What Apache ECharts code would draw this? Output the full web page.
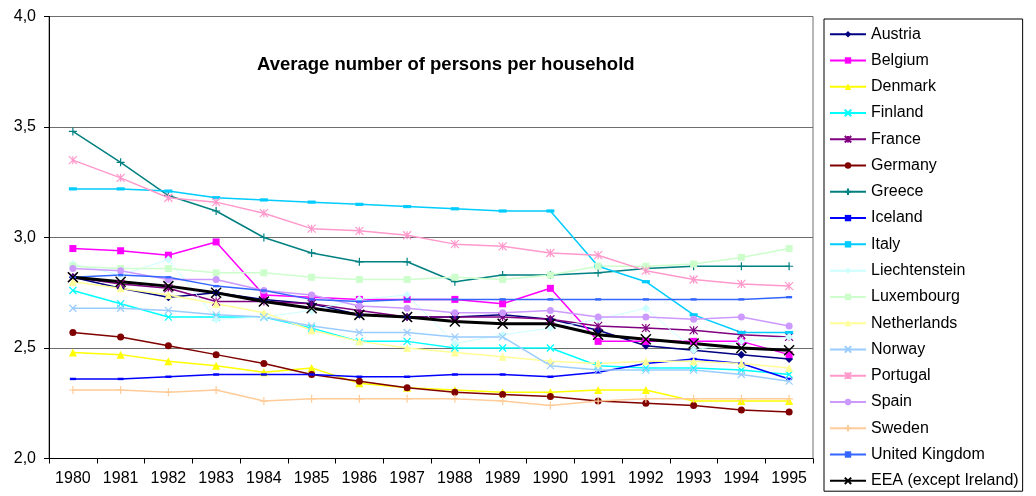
<!DOCTYPE html>
<html>
<head>
<meta charset="utf-8">
<script src="https://cdn.jsdelivr.net/npm/echarts@6/dist/echarts.min.js"></script>
<style>
  html, body { margin: 0; padding: 0; background: #fff; }
  #chart { width: 1036px; height: 496px; }
</style>
</head>
<body>
<div id="chart"></div>
<script>
// Average household size, 1980-1995
const years = ['1980','1981','1982','1983','1984','1985','1986','1987','1988','1989','1990','1991','1992','1993','1994','1995'];

const austria       = [2.82, 2.77, 2.73, 2.75, 2.72, 2.70, 2.65, 2.64, 2.64, 2.65, 2.63, 2.58, 2.51, 2.49, 2.47, 2.45];
const belgium       = [2.95, 2.94, 2.92, 2.98, 2.74, 2.73, 2.72, 2.72, 2.72, 2.70, 2.77, 2.53, 2.53, 2.53, 2.53, 2.47];
const denmark       = [2.48, 2.47, 2.44, 2.42, 2.39, 2.41, 2.34, 2.32, 2.31, 2.30, 2.30, 2.31, 2.31, 2.26, 2.26, 2.26];
const finland       = [2.76, 2.70, 2.64, 2.64, 2.64, 2.59, 2.53, 2.53, 2.50, 2.50, 2.50, 2.42, 2.41, 2.41, 2.40, 2.38];
const france        = [2.82, 2.79, 2.77, 2.71, 2.71, 2.70, 2.67, 2.64, 2.64, 2.64, 2.63, 2.60, 2.59, 2.58, 2.56, 2.55];
const germany       = [2.57, 2.55, 2.51, 2.47, 2.43, 2.38, 2.35, 2.32, 2.30, 2.29, 2.28, 2.26, 2.25, 2.24, 2.22, 2.21];
const greece        = [3.48, 3.34, 3.19, 3.12, 3.00, 2.93, 2.89, 2.89, 2.80, 2.83, 2.83, 2.84, 2.86, 2.87, 2.87, 2.87];
const iceland       = [2.36, 2.36, 2.37, 2.38, 2.38, 2.38, 2.37, 2.37, 2.38, 2.38, 2.37, 2.39, 2.43, 2.45, 2.43, 2.36];
const italy         = [3.22, 3.22, 3.21, 3.18, 3.17, 3.16, 3.15, 3.14, 3.13, 3.12, 3.12, 2.87, 2.80, 2.65, 2.57, 2.57];
const liechtenstein = [2.88, 2.83, 2.90, 2.63, 2.64, 2.67, 2.72, 2.74, 2.52, 2.56, 2.59, 2.63, 2.68, 2.49, 2.53, 2.55];
const luxembourg    = [2.87, 2.86, 2.86, 2.84, 2.84, 2.82, 2.81, 2.81, 2.82, 2.81, 2.83, 2.87, 2.87, 2.88, 2.91, 2.95];
const netherlands   = [2.80, 2.77, 2.74, 2.70, 2.66, 2.58, 2.53, 2.50, 2.48, 2.46, 2.44, 2.43, 2.44, 2.44, 2.43, 2.41];
const norway        = [2.68, 2.68, 2.67, 2.65, 2.64, 2.60, 2.57, 2.57, 2.55, 2.55, 2.42, 2.40, 2.40, 2.40, 2.38, 2.35];
const portugal      = [3.35, 3.27, 3.18, 3.16, 3.11, 3.04, 3.03, 3.01, 2.97, 2.96, 2.93, 2.92, 2.85, 2.81, 2.79, 2.78];
const spain         = [2.86, 2.85, 2.81, 2.81, 2.76, 2.74, 2.69, 2.68, 2.66, 2.66, 2.67, 2.64, 2.64, 2.63, 2.64, 2.60];
const sweden        = [2.31, 2.31, 2.30, 2.31, 2.26, 2.27, 2.27, 2.27, 2.27, 2.26, 2.24, 2.26, 2.27, 2.27, 2.27, 2.27];
const unitedKingdom = [2.82, 2.83, 2.82, 2.78, 2.76, 2.72, 2.71, 2.72, 2.72, 2.72, 2.72, 2.72, 2.72, 2.72, 2.72, 2.73];
const eea           = [2.82, 2.80, 2.78, 2.75, 2.71, 2.68, 2.65, 2.64, 2.62, 2.61, 2.61, 2.56, 2.54, 2.52, 2.50, 2.49];

const yTicks = [2.0, 2.5, 3.0, 3.5, 4.0];

// Marker shapes
const SYM_X = 'path://M0,0L10,10M10,0L0,10';
const SYM_PLUS = 'path://M5,0L5,10M0,5L10,5';
const SYM_STAR = 'path://M0,0L10,10M10,0L0,10M5,0L5,10';
const SYM_DASH = 'path://M0,0L10,0L10,4L0,4Z';

const FONT = '"Liberation Sans", Arial, sans-serif';

function filled(name, data, color, symbol, size, extra) {
  return Object.assign({
    name, type: 'line', data,
    symbol, symbolSize: size,
    lineStyle: { color, width: 1.5 },
    itemStyle: { color, borderWidth: 0 },
    animation: false
  }, extra || {});
}
function stroked(name, data, color, symbol, size, lw, sw) {
  return {
    name, type: 'line', data,
    symbol, symbolSize: size,
    lineStyle: { color, width: lw || 1.5 },
    itemStyle: { color, borderColor: color, borderWidth: sw || 1.2 },
    animation: false
  };
}

const series = [
  filled('Austria', austria, '#000080', 'diamond', 8),
  filled('Belgium', belgium, '#FF00FF', 'rect', 7),
  filled('Denmark', denmark, '#FFFF00', 'triangle', 8),
  stroked('Finland', finland, '#00FFFF', SYM_X, 7),
  stroked('France', france, '#800080', SYM_STAR, 8),
  filled('Germany', germany, '#800000', 'circle', 7),
  stroked('Greece', greece, '#008080', SYM_PLUS, 8),
  filled('Iceland', iceland, '#0000FF', SYM_DASH, 6, { symbolKeepAspect: true }),
  filled('Italy', italy, '#00CCFF', SYM_DASH, 8, { symbolKeepAspect: true }),
  filled('Liechtenstein', liechtenstein, '#CCFFFF', 'diamond', 8, { lineStyle: { color: '#CCFFFF', width: 1 } }),
  filled('Luxembourg', luxembourg, '#CCFFCC', 'rect', 7),
  filled('Netherlands', netherlands, '#FFFF99', 'triangle', 8),
  stroked('Norway', norway, '#99CCFF', SYM_X, 7),
  stroked('Portugal', portugal, '#FF99CC', SYM_STAR, 8),
  filled('Spain', spain, '#CC99FF', 'circle', 7),
  stroked('Sweden', sweden, '#FFCC99', SYM_PLUS, 8),
  filled('United Kingdom', unitedKingdom, '#3366FF', SYM_DASH, 6, { symbolKeepAspect: true }),
  stroked('EEA (except Ireland)', eea, '#000000', SYM_X, 10, 3, 1.5)
];

const chart = echarts.init(document.getElementById('chart'), null, { renderer: 'canvas' });
chart.setOption({
  backgroundColor: '#ffffff',
  textStyle: { fontFamily: FONT },
  title: {
    text: 'Average number of persons per household',
    left: 257, top: 55, padding: 0,
    textStyle: { fontFamily: FONT, fontSize: 18.5, fontWeight: 'bold', color: '#000' }
  },
  grid: {
    left: 49, right: 223, top: 16.5, bottom: 37.5,
    show: true, borderColor: '#6e6e6e', borderWidth: 1, backgroundColor: 'transparent'
  },
  legend: {
    orient: 'vertical',
    left: 824, top: 19, bottom: 0,
    padding: [7.2, 4, 2.4, 5],
    itemWidth: 36, itemHeight: 8, itemGap: 10.27,
    backgroundColor: '#fff', borderColor: '#000', borderWidth: 1,
    textStyle: { fontFamily: FONT, fontSize: 16, lineHeight: 16, color: '#000' },
    data: series.map(s => s.name)
  },
  xAxis: {
    type: 'category', data: years, boundaryGap: true,
    axisLine: { lineStyle: { color: '#000', width: 1 } },
    axisTick: { show: true, length: 5, lineStyle: { color: '#000' } },
    axisLabel: { color: '#000', fontSize: 16, fontFamily: FONT, margin: 12 },
    splitLine: { show: false }
  },
  yAxis: {
    type: 'value', min: yTicks[0], max: yTicks[yTicks.length - 1], interval: 0.5,
    axisLine: { show: true, lineStyle: { color: '#000', width: 1 } },
    axisTick: { show: true, length: 5, lineStyle: { color: '#000' } },
    axisLabel: {
      color: '#000', fontSize: 16, fontFamily: FONT, margin: 13,
      formatter: v => v.toFixed(1).replace('.', ',')
    },
    splitLine: { show: true, lineStyle: { color: '#6e6e6e', width: 1 } }
  },
  series
});
</script>
</body>
</html>
